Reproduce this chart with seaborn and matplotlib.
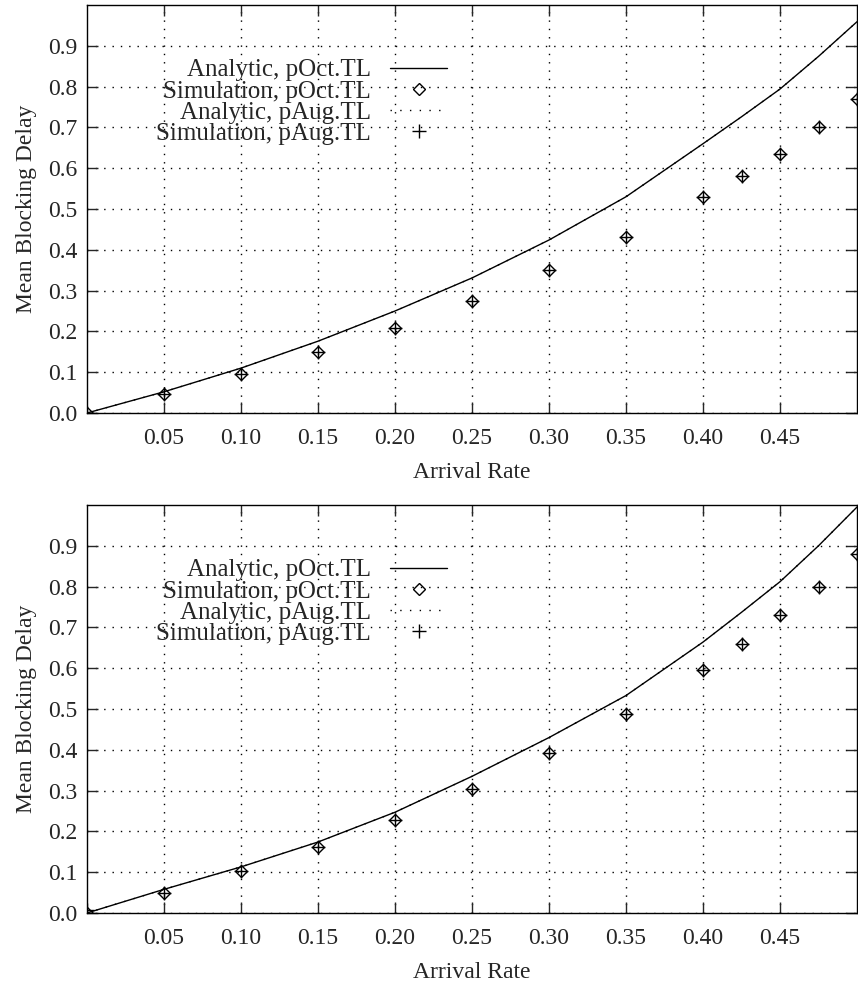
import numpy as np
import pandas as pd
import matplotlib
matplotlib.use("Agg")
import matplotlib.pyplot as plt
import seaborn as sns

# Arrival rates where the curves / simulation points were read
rate = [0.0, 0.05, 0.10, 0.15, 0.20, 0.25, 0.30, 0.35, 0.40, 0.425, 0.45, 0.475, 0.50]

# Top panel
top_analytic_oct = [0.0, 0.052, 0.110, 0.176, 0.250, 0.331, 0.424, 0.530, 0.660, 0.726, 0.794, 0.874, 0.959]
top_analytic_aug = [0.0, 0.052, 0.110, 0.176, 0.250, 0.331, 0.424, 0.530, 0.660, 0.726, 0.794, 0.874, 0.959]
top_sim_oct = [0.0, 0.046, 0.095, 0.150, 0.208, 0.275, 0.350, 0.431, 0.530, 0.582, 0.635, 0.700, 0.770]
top_sim_aug = [0.0, 0.046, 0.095, 0.150, 0.208, 0.275, 0.350, 0.431, 0.530, 0.582, 0.635, 0.700, 0.770]

# Bottom panel
bot_analytic_oct = [0.0, 0.058, 0.113, 0.174, 0.247, 0.335, 0.430, 0.533, 0.664, 0.737, 0.812, 0.900, 0.995]
bot_analytic_aug = [0.0, 0.058, 0.113, 0.174, 0.247, 0.335, 0.430, 0.533, 0.664, 0.737, 0.812, 0.900, 0.995]
bot_sim_oct = [0.0, 0.048, 0.103, 0.162, 0.228, 0.304, 0.392, 0.488, 0.596, 0.659, 0.730, 0.799, 0.880]
bot_sim_aug = [0.008, 0.048, 0.103, 0.162, 0.228, 0.304, 0.392, 0.488, 0.596, 0.659, 0.730, 0.799, 0.880]

x_ticks = [0.05, 0.10, 0.15, 0.20, 0.25, 0.30, 0.35, 0.40, 0.45]
y_ticks = [0.0, 0.1, 0.2, 0.3, 0.4, 0.5, 0.6, 0.7, 0.8, 0.9]

labels = ["Analytic, pOct.TL", "Simulation, pOct.TL", "Analytic, pAug.TL", "Simulation, pAug.TL"]

sns.set_style("ticks")
plt.rcParams['font.family'] = ['Liberation Serif', 'DejaVu Serif']

FS = 17


def draw_panel(ax, a_oct, s_oct, a_aug, s_aug):
    df = pd.DataFrame({'rate': rate, 'a_oct': a_oct, 's_oct': s_oct,
                       'a_aug': a_aug, 's_aug': s_aug})
    sns.lineplot(data=df, x='rate', y='a_oct', ax=ax, color='black', lw=1.0,
                 label=labels[0])
    sns.lineplot(data=df, x='rate', y='s_oct', ax=ax, color='black', marker='D',
                 linestyle='none', markersize=6.5, mfc='none', mec='black', mew=1.0,
                 label=labels[1])
    sns.lineplot(data=df, x='rate', y='a_aug', ax=ax, color='black', lw=1.0,
                 linestyle=(0, (1, 6)), label=labels[2])
    sns.lineplot(data=df, x='rate', y='s_aug', ax=ax, color='black', marker='+',
                 linestyle='none', markersize=10, mec='black', mew=1.0,
                 label=labels[3])

    ax.set_xlim(0, 0.5)
    ax.set_ylim(0, 1.0)
    ax.set_xticks(x_ticks)
    ax.set_xticklabels([f"{v:.2f}" for v in x_ticks], fontsize=FS)
    ax.set_yticks(y_ticks)
    ax.set_yticklabels([f"{v:.1f}" for v in y_ticks], fontsize=FS)
    ax.tick_params(axis='x', direction='in', length=8, width=1, top=True, pad=11)
    ax.tick_params(axis='y', direction='in', length=8, width=1, right=True, pad=7)
    ax.grid(True, color='black', linestyle=(0, (1, 5)), linewidth=1.0)
    for s in ax.spines.values():
        s.set_visible(True)
        s.set_linewidth(1.0)
        s.set_color('black')
    ax.set_xlabel("Arrival Rate", fontsize=FS, labelpad=9)
    ax.set_ylabel("Mean Blocking Delay", fontsize=FS, labelpad=8)

    leg = ax.legend(loc='upper right', bbox_to_anchor=(0.468, 0.868), frameon=False,
                    markerfirst=False, fontsize=FS + 1, handlelength=2.3,
                    handletextpad=0.75, labelspacing=-0.05, borderpad=0,
                    borderaxespad=0, numpoints=1)
    for t in leg.get_texts():
        t.set_ha('right')
    leg._legend_box.align = "right"


fig = plt.figure(figsize=(8.58, 9.83), dpi=100)
ax1 = fig.add_axes([87 / 858, 1 - 413 / 983, 770 / 858, 408 / 983])
ax2 = fig.add_axes([87 / 858, 1 - 913 / 983, 770 / 858, 408 / 983])

draw_panel(ax1, top_analytic_oct, top_sim_oct, top_analytic_aug, top_sim_aug)
draw_panel(ax2, bot_analytic_oct, bot_sim_oct, bot_analytic_aug, bot_sim_aug)

fig.savefig("out.png", dpi=100)
